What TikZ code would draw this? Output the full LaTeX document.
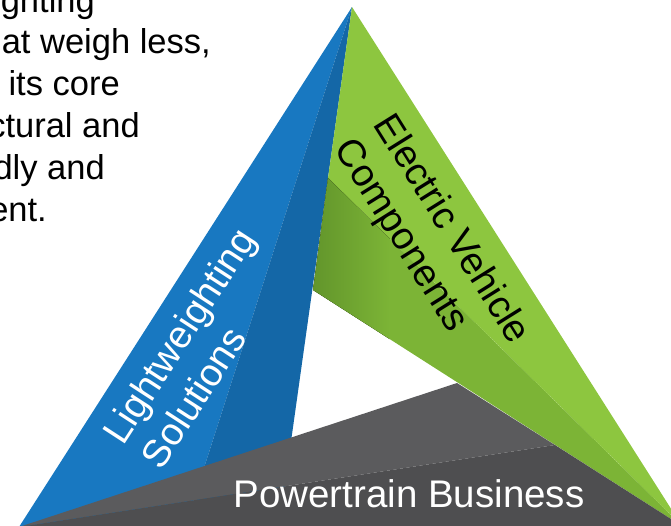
\documentclass[tikz,border=0pt]{standalone}
\usepackage{fontspec}
\setmainfont{Liberation Sans}

\definecolor{bluelight}{HTML}{1878C1}
\definecolor{bluedark}{HTML}{1467A7}
\definecolor{greenlight}{HTML}{8DC63F}
\definecolor{greenmid}{HTML}{7CB436}
\definecolor{greendark}{HTML}{62952B}
\definecolor{greylight}{HTML}{5B5B5D}
\definecolor{greydark}{HTML}{4E4E50}

\tikzset{
  sidetext/.style={font=\fontsize{38.5}{46}\selectfont, align=left, inner sep=0pt},
  bodytext/.style={font=\fontsize{34.5}{42}\selectfont, anchor=base east, inner sep=0pt}
}

\begin{document}
\begin{tikzpicture}[x=1pt,y=-1pt]
      \useasboundingbox (0,0) rectangle (671,525);
      \clip (0,0) rectangle (671,525);

      \coordinate (top) at (352,7);
      \coordinate (left) at (19,527);
      \coordinate (right) at (682,526);
      \coordinate (bluein) at (279,527);
      \coordinate (greenin) at (313,290);
      \coordinate (greyin) at (457,383);
      \coordinate (bluecrease) at (185,527);
      \coordinate (greencrease) at (328,178);
      \coordinate (greycrease) at (555,445);

      \fill[bluelight] (top) -- (left) -- (bluecrease) -- cycle;
      \fill[bluedark] (top) -- (bluecrease) -- (bluein) -- cycle;
      \fill[greenlight] (top) -- (greencrease) -- (right) -- cycle;
      \begin{scope}
        \clip (greencrease) -- (greenin) -- (right) -- cycle;
        \fill[greenmid] (greencrease) -- (greenin) -- (right) -- cycle;
        \fill[left color=greendark, right color=greenmid] (312,170) rectangle (390,380);
      \end{scope}
      \fill[greylight] (left) -- (greyin) -- (greycrease) -- cycle;
      \fill[greydark] (left) -- (greycrease) -- (right) -- cycle;

      \node[sidetext, text=white, rotate=57] (lightweight) at (198,348) {Lightweighting\\Solutions};
      \node[sidetext, rotate=-58] (electric) at (431,242) {Electric Vehicle\\Components};
      \node[sidetext, text=white, anchor=base] (powertrain) at (409,507) {Powertrain Business};

      \node[bodytext] (line1) at (95,12) {ghting};
      \node[bodytext] (line2) at (211,53) {at weigh less,};
      \node[bodytext] (line3) at (120,95) {n its core};
      \node[bodytext] (line4) at (140,137) {ctural and};
      \node[bodytext] (line5) at (105,179) {dly and};
      \node[bodytext] (line6) at (47,221) {ent.};
\end{tikzpicture}
\end{document}
